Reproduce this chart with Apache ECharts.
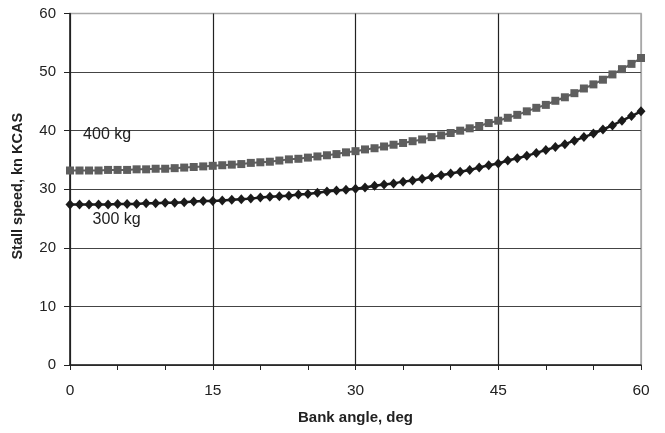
<!DOCTYPE html>
<html>
<head>
<meta charset="utf-8">
<script src="https://cdn.jsdelivr.net/npm/echarts@6/dist/echarts.min.js"></script>
<style>
html,body{margin:0;padding:0;background:#fff;}
#chart{width:665px;height:433px;}
</style>
</head>
<body>
<div id="chart"></div>
<script>
var bankAngles = [0,1,2,3,4,5,6,7,8,9,10,11,12,13,14,15,16,17,18,19,20,21,22,23,24,25,26,27,28,29,30,31,32,33,34,35,36,37,38,39,40,41,42,43,44,45,46,47,48,49,50,51,52,53,54,55,56,57,58,59,60];
var speed400 = [33.2,33.2,33.2,33.2,33.3,33.3,33.3,33.4,33.4,33.5,33.5,33.6,33.7,33.8,33.9,34.0,34.1,34.2,34.3,34.5,34.6,34.7,34.9,35.1,35.2,35.4,35.6,35.8,36.0,36.3,36.5,36.8,37.0,37.3,37.6,37.9,38.2,38.5,38.9,39.2,39.6,40.0,40.4,40.8,41.3,41.7,42.2,42.7,43.3,43.9,44.4,45.1,45.7,46.4,47.2,47.9,48.7,49.6,50.5,51.4,52.4];
var speed300 = [27.4,27.4,27.4,27.4,27.4,27.5,27.5,27.5,27.6,27.6,27.7,27.7,27.8,27.9,28.0,28.0,28.1,28.2,28.3,28.4,28.6,28.7,28.8,28.9,29.1,29.2,29.4,29.6,29.8,29.9,30.1,30.3,30.6,30.8,31.0,31.3,31.5,31.8,32.1,32.4,32.7,33.0,33.3,33.7,34.1,34.4,34.9,35.3,35.7,36.2,36.7,37.2,37.7,38.3,38.9,39.5,40.2,40.9,41.7,42.5,43.3];
var xTicks = [0,15,30,45,60];
var yTicks = [0,10,20,30,40,50,60];
var seriesNames = ['400 kg','300 kg'];
var labelPos400 = [3.9, 39.4];
var labelPos300 = [4.9, 24.9];

function pairs(xs, ys){ return xs.map(function(x,i){ return [x, ys[i]]; }); }
var borderGray = '#a8a8a8';
var xSplitColors = xTicks.map(function(v,i){ return i === xTicks.length-1 ? borderGray : '#222'; });
var ySplitColors = yTicks.map(function(v,i){ return i === yTicks.length-1 ? borderGray : '#444'; });

var chart = echarts.init(document.getElementById('chart'), null, {renderer:'canvas'});
var font = 'Arial, "Liberation Sans", sans-serif';
chart.setOption({
  animation:false,
  backgroundColor:'#fff',
  grid:{left:70, right:24, top:13.5, bottom:68, show:true, borderColor:borderGray, borderWidth:1.5, backgroundColor:'transparent'},
  xAxis:{
    type:'value', min:xTicks[0], max:xTicks[xTicks.length-1], interval:15,
    name:'Bank angle, deg', nameLocation:'middle', nameGap:45,
    nameTextStyle:{fontFamily:font, fontWeight:'bold', fontSize:15, color:'#222'},
    axisLine:{show:true, onZero:false, lineStyle:{color:'#222', width:1.5}},
    axisTick:{show:true, length:5, lineStyle:{color:'#222', width:1}},
    minorTick:{show:true, splitNumber:3, length:5, lineStyle:{color:'#222', width:1}},
    splitLine:{show:true, lineStyle:{color:xSplitColors, width:1.2}},
    axisLabel:{fontFamily:font, fontSize:15.5, color:'#222', margin:18}
  },
  yAxis:{
    type:'value', min:yTicks[0], max:yTicks[yTicks.length-1], interval:10,
    name:'Stall speed, kn KCAS', nameLocation:'middle', nameGap:45,
    nameTextStyle:{fontFamily:font, fontWeight:'bold', fontSize:14.5, color:'#222', padding:[0,0,0,6]},
    axisLine:{show:true, onZero:false, lineStyle:{color:'#222', width:1.5}},
    axisTick:{show:true, length:6, lineStyle:{color:'#222', width:1}},
    splitLine:{show:true, lineStyle:{color:ySplitColors, width:1.2}},
    axisLabel:{fontFamily:font, fontSize:15, color:'#222', margin:14}
  },
  series:[
    {
      name:seriesNames[0], type:'line', data:pairs(bankAngles, speed400),
      symbol:'rect', symbolSize:8, showAllSymbol:true,
      lineStyle:{color:'#5e5e5e', width:2}, itemStyle:{color:'#5e5e5e'},
      markPoint:{symbol:'circle', symbolSize:0, silent:true,
        label:{show:true, formatter:seriesNames[0], fontFamily:font, fontSize:16, color:'#222', position:'inside'},
        data:[{coord:labelPos400}]}
    },
    {
      name:seriesNames[1], type:'line', data:pairs(bankAngles, speed300),
      symbol:'diamond', symbolSize:[9,10], showAllSymbol:true,
      lineStyle:{color:'#1a1a1a', width:2.5}, itemStyle:{color:'#1a1a1a'},
      markPoint:{symbol:'circle', symbolSize:0, silent:true,
        label:{show:true, formatter:seriesNames[1], fontFamily:font, fontSize:16, color:'#222', position:'inside'},
        data:[{coord:labelPos300}]}
    }
  ]
});
</script>
</body>
</html>
